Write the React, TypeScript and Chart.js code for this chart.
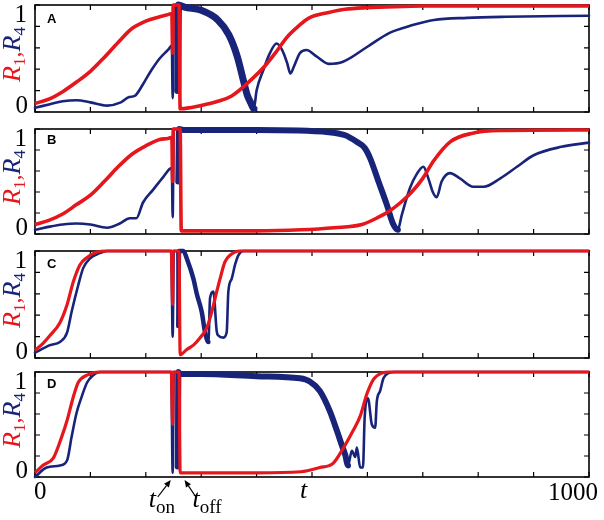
import React, { useEffect, useRef } from "react";
import { Chart, registerables } from "chart.js";
Chart.register(...registerables);

// ---------- DATA ----------
// x tick values (only 0 and 1000 labelled)
const xTickValues = [0, 100, 200, 300, 400, 500, 600, 700, 800, 900, 1000];
const xTickLabels = ["0", "1000"];
const yTickValues = [0, 0.2, 0.4, 0.6, 0.8, 1];
const yTickLabels = ["0", "1"];
const panelLetters = ["A", "B", "C", "D"];
const tOn = 245;
const tOff = 270;

// Panel A
const aRedT = [0, 25, 50, 75, 100, 125, 150, 175, 200, 225, 240, 247, 248.5, 249.5, 260, 262, 280, 300, 330, 355, 390, 415, 435, 455, 475, 495, 530, 560, 600, 650, 700, 800, 1000];
const aRedY = [0.08, 0.12, 0.19, 0.28, 0.38, 0.51, 0.65, 0.78, 0.85, 0.89, 0.91, 0.92, 0.55, 1.0, 1.0, 0.03, 0.04, 0.06, 0.1, 0.15, 0.3, 0.43, 0.56, 0.7, 0.8, 0.88, 0.93, 0.96, 0.975, 0.985, 0.99, 0.99, 0.99];
const aBlueT = [0, 25, 50, 75, 100, 130, 155, 170, 180, 195, 210, 225, 240, 247, 248.5, 250.5, 256, 257.5, 259, 270, 300, 330, 350, 365, 375, 383, 390, 395, 400, 412, 424, 436, 446, 455, 461, 467, 478, 490, 508, 530, 556, 600, 640, 680, 720, 780, 850, 1000];
const aBlueY = [0.04, 0.07, 0.1, 0.11, 0.09, 0.06, 0.09, 0.14, 0.15, 0.26, 0.39, 0.5, 0.58, 0.62, 0.13, 1.0, 1.0, 0.2, 1.0, 0.98, 0.95, 0.86, 0.72, 0.52, 0.32, 0.16, 0.08, 0.03, 0.2, 0.39, 0.55, 0.64, 0.58, 0.46, 0.36, 0.42, 0.55, 0.58, 0.52, 0.45, 0.47, 0.61, 0.74, 0.81, 0.86, 0.88, 0.89, 0.9];

// Panel B
const bRedT = [0, 25, 50, 75, 100, 125, 150, 175, 200, 225, 240, 247, 248.5, 249.5, 262, 264, 400, 480, 540, 590, 620, 640, 660, 680, 700, 720, 750, 790, 840, 1000];
const bRedY = [0.09, 0.13, 0.19, 0.28, 0.37, 0.5, 0.64, 0.76, 0.84, 0.9, 0.91, 0.92, 0.5, 1.0, 1.0, 0.03, 0.03, 0.04, 0.06, 0.09, 0.16, 0.22, 0.3, 0.4, 0.53, 0.7, 0.88, 0.96, 0.985, 0.99];
const bBlueT = [0, 27, 50, 75, 100, 130, 153, 171, 183, 195, 213, 231, 247, 248.5, 250.5, 257, 258.5, 260, 270, 400, 530, 560, 580, 595, 605, 620, 635, 646, 655, 662, 677, 689, 701, 710, 718, 725, 734, 749, 767, 791, 810, 840, 870, 900, 950, 1000];
const bBlueY = [0.04, 0.07, 0.09, 0.1, 0.09, 0.06, 0.1, 0.15, 0.15, 0.3, 0.42, 0.54, 0.63, 0.16, 1.0, 1.0, 0.5, 1.0, 0.99, 0.99, 0.97, 0.94, 0.88, 0.82, 0.72, 0.5, 0.28, 0.1, 0.04, 0.18, 0.44, 0.57, 0.64, 0.53, 0.4, 0.35, 0.5, 0.58, 0.53, 0.45, 0.45, 0.53, 0.64, 0.75, 0.83, 0.87];

// Panel C
const cRedT = [0, 15, 27, 45, 58, 69, 81, 94, 112, 130, 246, 248.5, 249.5, 260, 262, 274, 286, 298, 310, 319, 328, 334, 343, 352, 370, 1000];
const cRedY = [0.07, 0.14, 0.21, 0.33, 0.5, 0.71, 0.87, 0.94, 0.99, 1.0, 1.0, 0.5, 1.0, 1.0, 0.03, 0.08, 0.12, 0.19, 0.28, 0.43, 0.62, 0.74, 0.9, 0.96, 1.0, 1.0];
const cBlueT = [0, 27, 45, 58, 66, 78, 87, 99, 117, 130, 246, 248.5, 250.5, 257, 258.5, 260, 268, 274, 286, 292, 301, 307, 313, 316, 322, 328, 331, 340, 346, 349, 355, 361, 367, 376, 1000];
const cBlueY = [0.05, 0.12, 0.15, 0.24, 0.43, 0.68, 0.84, 0.93, 0.98, 1.0, 1.0, 0.2, 1.0, 1.0, 0.3, 1.0, 1.0, 0.93, 0.74, 0.6, 0.43, 0.24, 0.15, 0.56, 0.62, 0.25, 0.21, 0.19, 0.24, 0.62, 0.74, 0.87, 0.96, 1.0, 1.0];

// Panel D
const dRedT = [0, 14, 33, 48, 58, 69, 78, 94, 117, 246, 248.5, 249.5, 260, 262, 300, 400, 480, 514, 538, 556, 574, 587, 599, 611, 626, 640, 1000];
const dRedY = [0.04, 0.11, 0.18, 0.38, 0.54, 0.76, 0.9, 0.97, 1.0, 1.0, 0.5, 1.0, 1.0, 0.04, 0.04, 0.04, 0.05, 0.09, 0.13, 0.27, 0.44, 0.58, 0.79, 0.93, 0.99, 1.0, 1.0];
const dBlueT = [0, 21, 45, 58, 66, 75, 84, 94, 105, 117, 246, 248.5, 250.5, 256, 257.5, 259, 262, 300, 400, 478, 496, 514, 532, 545, 554, 560, 565, 572, 578, 581, 587, 592, 595, 601, 608, 614, 617, 623, 629, 638, 650, 1000];
const dBlueY = [0.0, 0.09, 0.11, 0.16, 0.38, 0.61, 0.76, 0.9, 0.97, 1.0, 1.0, 0.04, 1.0, 1.0, 0.1, 1.0, 0.98, 0.98, 0.96, 0.94, 0.91, 0.82, 0.63, 0.44, 0.3, 0.21, 0.11, 0.25, 0.19, 0.28, 0.09, 0.09, 0.56, 0.75, 0.5, 0.47, 0.72, 0.82, 0.94, 0.99, 1.0, 1.0];

// ---------- STYLE / LAYOUT ----------
const RED = "#e5161c";
const BLUE = "#18237a";
const SERIF = '"Liberation Serif", "DejaVu Serif", serif';
const SANS = '"Liberation Sans", Arial, sans-serif';

const panelData = [
  { redT: aRedT, redY: aRedY, blueT: aBlueT, blueY: aBlueY },
  { redT: bRedT, redY: bRedY, blueT: bBlueT, blueY: bBlueY },
  { redT: cRedT, redY: cRedY, blueT: cBlueT, blueY: cBlueY },
  { redT: dRedT, redY: dRedY, blueT: dBlueT, blueY: dBlueY },
];

const panelLayout = [
  { top: 0, height: 122, padTop: 5, padBottom: 10, thick: [258, 394], thickW: 7, redW: 3.6, letterDy: 18 },
  { top: 122, height: 122, padTop: 7, padBottom: 10, thick: [258, 654], thickW: 6, redW: 3.6, letterDy: 15 },
  { top: 244, height: 122, padTop: 7, padBottom: 8, thick: [258, 314], thickW: 4.5, redW: 3.2, letterDy: 17 },
  { top: 366, height: 154, padTop: 6, padBottom: 43, thick: [258, 566], thickW: 6, redW: 3.2, letterDy: 16 },
];
const BLUE_THIN = 2.6;

function pts(t: number[], y: number[]) {
  return t.map((x, i) => ({ x, y: y[i] }));
}

function drawRich(ctx: CanvasRenderingContext2D, parts: { text: string; font: string; color: string; dy: number }[], x: number, y: number, rotate: boolean, align: "left" | "center") {
  ctx.save();
  ctx.translate(x, y);
  if (rotate) ctx.rotate(-Math.PI / 2);
  ctx.textBaseline = "alphabetic";
  ctx.textAlign = "left";
  let total = 0;
  const widths = parts.map((p) => {
    ctx.font = p.font;
    const w = ctx.measureText(p.text).width;
    total += w;
    return w;
  });
  let cx = align === "center" ? -total / 2 : 0;
  parts.forEach((p, i) => {
    ctx.font = p.font;
    ctx.fillStyle = p.color;
    ctx.fillText(p.text, cx, p.dy);
    cx += widths[i];
  });
  ctx.restore();
}

function arrow(ctx: CanvasRenderingContext2D, x0: number, y0: number, x1: number, y1: number) {
  ctx.save();
  ctx.strokeStyle = "#000";
  ctx.fillStyle = "#000";
  ctx.lineWidth = 1.2;
  const ang = Math.atan2(y1 - y0, x1 - x0);
  const hl = 7;
  const bx = x1 - hl * Math.cos(ang);
  const by = y1 - hl * Math.sin(ang);
  ctx.beginPath();
  ctx.moveTo(x0, y0);
  ctx.lineTo(bx, by);
  ctx.stroke();
  ctx.beginPath();
  ctx.moveTo(x1, y1);
  ctx.lineTo(bx + 3 * Math.cos(ang + Math.PI / 2), by + 3 * Math.sin(ang + Math.PI / 2));
  ctx.lineTo(bx + 3 * Math.cos(ang - Math.PI / 2), by + 3 * Math.sin(ang - Math.PI / 2));
  ctx.closePath();
  ctx.fill();
  ctx.restore();
}

function makePlugin(idx: number) {
  const lay = panelLayout[idx];
  const isLast = idx === panelLayout.length - 1;
  return {
    id: "deco" + idx,
    beforeDatasetsDraw(chart: any) {
      const ctx: CanvasRenderingContext2D = chart.ctx;
      const { left, right, top, bottom } = chart.chartArea;
      const xs = chart.scales.x;
      const ys = chart.scales.y;
      ctx.save();
      ctx.strokeStyle = "#000";
      ctx.lineWidth = 1.2;
      ctx.beginPath();
      xTickValues.forEach((v) => {
        const px = xs.getPixelForValue(v);
        ctx.moveTo(px, bottom);
        ctx.lineTo(px, bottom - 5);
        ctx.moveTo(px, top);
        ctx.lineTo(px, top + 5);
      });
      yTickValues.forEach((v) => {
        const py = ys.getPixelForValue(v);
        ctx.moveTo(left, py);
        ctx.lineTo(left + 5, py);
        ctx.moveTo(right, py);
        ctx.lineTo(right - 5, py);
      });
      ctx.stroke();
      ctx.lineWidth = 1.6;
      ctx.strokeRect(left, top, right - left, bottom - top);
      ctx.restore();
    },
    afterDraw(chart: any) {
      const ctx: CanvasRenderingContext2D = chart.ctx;
      const { left, top, bottom } = chart.chartArea;
      const xs = chart.scales.x;
      const ys = chart.scales.y;
      ctx.save();
      // panel letter
      ctx.font = `bold 13px ${SANS}`;
      ctx.fillStyle = "#000";
      ctx.textAlign = "left";
      ctx.textBaseline = "alphabetic";
      ctx.fillText(panelLetters[idx], left + 12, top + lay.letterDy);
      // y tick labels
      ctx.font = `25px ${SERIF}`;
      ctx.textAlign = "right";
      ctx.fillText(yTickLabels[1], left - 8, ys.getPixelForValue(1) + 17);
      ctx.fillText(yTickLabels[0], left - 7, ys.getPixelForValue(0) + 1);
      ctx.restore();
      // y axis title
      const cy = (top + bottom) / 2 - 4;
      drawRich(
        ctx,
        [
          { text: "R", font: `italic 26px ${SERIF}`, color: RED, dy: 0 },
          { text: "1", font: `17px ${SERIF}`, color: RED, dy: 5 },
          { text: ",", font: `24px ${SERIF}`, color: RED, dy: 0 },
          { text: "R", font: `italic 26px ${SERIF}`, color: BLUE, dy: 0 },
          { text: "4", font: `17px ${SERIF}`, color: BLUE, dy: 5 },
        ],
        20,
        cy,
        true,
        "center"
      );
      if (isLast) {
        ctx.save();
        ctx.fillStyle = "#000";
        ctx.font = `25px ${SERIF}`;
        ctx.textBaseline = "alphabetic";
        ctx.textAlign = "left";
        ctx.fillText(xTickLabels[0], xs.getPixelForValue(0) - 1, bottom + 22);
        ctx.textAlign = "right";
        ctx.fillText(xTickLabels[1], xs.getPixelForValue(1000) + 9, bottom + 23);
        ctx.font = `italic 26px ${SERIF}`;
        ctx.textAlign = "center";
        ctx.fillText("t", xs.getPixelForValue(485), bottom + 21);
        ctx.restore();
        const xOn = xs.getPixelForValue(tOn);
        const xOff = xs.getPixelForValue(tOff);
        arrow(ctx, xOn - 13, bottom + 20, xOn, bottom + 3);
        arrow(ctx, xOff + 12, bottom + 21, xOff, bottom + 3);
        drawRich(
          ctx,
          [
            { text: "t", font: `italic 26px ${SERIF}`, color: "#000", dy: 0 },
            { text: "on", font: `19px ${SERIF}`, color: "#000", dy: 6 },
          ],
          xOn - 22,
          bottom + 30,
          false,
          "left"
        );
        drawRich(
          ctx,
          [
            { text: "t", font: `italic 26px ${SERIF}`, color: "#000", dy: 0 },
            { text: "off", font: `19px ${SERIF}`, color: "#000", dy: 6 },
          ],
          xOff + 8,
          bottom + 30,
          false,
          "left"
        );
      }
    },
  };
}

function buildConfig(idx: number): any {
  const d = panelData[idx];
  const lay = panelLayout[idx];
  return {
    type: "line",
    data: {
      datasets: [
        {
          label: "R1",
          data: pts(d.redT, d.redY),
          borderColor: RED,
          borderWidth: lay.redW,
          pointRadius: 0,
          fill: false,
          clip: false,
          cubicInterpolationMode: "monotone",
          borderJoinStyle: "round",
        },
        {
          label: "R4",
          data: pts(d.blueT, d.blueY),
          borderColor: BLUE,
          borderWidth: BLUE_THIN,
          pointRadius: 0,
          fill: false,
          clip: false,
          cubicInterpolationMode: "monotone",
          borderJoinStyle: "round",
          borderCapStyle: "round",
          segment: {
            borderWidth: (c: any) => {
              const m = (c.p0.parsed.x + c.p1.parsed.x) / 2;
              return m >= lay.thick[0] && m <= lay.thick[1] ? lay.thickW : BLUE_THIN;
            },
          },
        },
      ],
    },
    options: {
      animation: false,
      responsive: false,
      maintainAspectRatio: false,
      layout: { padding: { left: 35, right: 15, top: lay.padTop, bottom: lay.padBottom } },
      scales: {
        x: { type: "linear", min: 0, max: 1000, display: false },
        y: { type: "linear", min: 0, max: 1, display: false },
      },
      plugins: { legend: { display: false }, tooltip: { enabled: false } },
      elements: { point: { radius: 0 } },
    },
    plugins: [makePlugin(idx)],
  };
}

export default function App() {
  const refs = useRef<(HTMLCanvasElement | null)[]>([]);
  useEffect(() => {
    const charts = panelLayout.map((_, i) => new Chart(refs.current[i] as HTMLCanvasElement, buildConfig(i)));
    return () => charts.forEach((c) => c.destroy());
  }, []);
  return (
    <div style={{ position: "absolute", left: 0, top: 0, width: 604, height: 520, background: "#fff" }}>
      {panelLayout.map((lay, i) => (
        <canvas
          key={i}
          ref={(el) => {
            refs.current[i] = el;
          }}
          width={604}
          height={lay.height}
          style={{ position: "absolute", left: 0, top: lay.top, width: 604, height: lay.height, display: "block" }}
        />
      ))}
    </div>
  );
}
